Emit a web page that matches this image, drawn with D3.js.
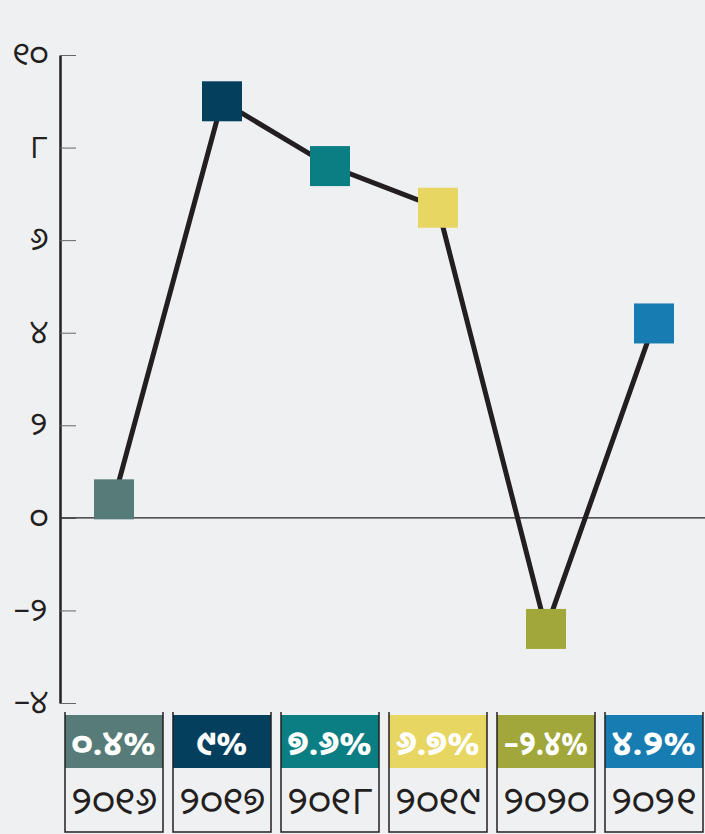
<!DOCTYPE html>
<html><head><meta charset="utf-8">
<script src="https://cdn.jsdelivr.net/npm/d3@7"></script>
<style>
html,body{margin:0;padding:0;background:#eff0f2;}
svg{display:block;}
text{font-family:"Noto Sans Oriya","Noto Sans Odia","Lohit Odia","Noto Sans","DejaVu Sans",sans-serif;}
</style></head>
<body><svg id="c" width="705" height="834"></svg>
<script>
const years = ["୨୦୧୬","୨୦୧୭","୨୦୧୮","୨୦୧୯","୨୦୨୦","୨୦୨୧"];
const values = [0.4, 9, 7.6, 6.7, -2.4, 4.2];
const valueLabels = ["୦.୪%","୯%","୭.୬%","୬.୭%","–୨.୪%","୪.୨%"];
const colors = ["#567b78","#053f5e","#0b7e83","#e8d663","#a1a73a","#167cb1"];
const yTicks = [10,8,6,4,2,0,-2,-4];
const yTickLabels = ["୧୦","୮","୬","୪","୨","୦","–୨","–୪"];

const svg = d3.select("#c");
const x = d3.scalePoint().domain(years).range([114,654]);
const y = d3.scaleLinear().domain([-4,10]).range([703,55]);

// axis
const axis = d3.axisLeft(y).tickValues(yTicks).tickSize(0).tickPadding(12)
  .tickFormat((d,i)=>yTickLabels[i]);
const ag = svg.append("g").attr("transform","translate(60,0)").call(axis);
ag.select(".domain").attr("stroke","#231f20").attr("stroke-width",2.5);
ag.selectAll(".tick text").attr("font-size",32).attr("fill","#231f20").attr("dy","0.3em");
ag.selectAll(".tick").append("line").attr("x1",0).attr("x2",16).attr("stroke","#666").attr("stroke-width",1);

// zero line
svg.append("line").attr("x1",60).attr("x2",705).attr("y1",y(0)).attr("y2",y(0))
  .attr("stroke","#231f20").attr("stroke-width",1.2);

// line
svg.append("path").datum(values)
  .attr("d", d3.line().x((d,i)=>x(years[i])).y(d=>y(d)))
  .attr("fill","none").attr("stroke","#231f20").attr("stroke-width",5);

// markers
svg.selectAll("rect.m").data(values).join("rect").attr("class","m")
  .attr("x",(d,i)=>x(years[i])-20).attr("y",d=>y(d)-20)
  .attr("width",40).attr("height",40).attr("fill",(d,i)=>colors[i]);

// boxes
const bw = 98;
const bg = svg.selectAll("g.box").data(years).join("g").attr("class","box")
  .attr("transform",d=>`translate(${x(d)-bw/2},0)`);
bg.append("rect").attr("x",0).attr("y",715).attr("width",bw).attr("height",53)
  .attr("fill",(d,i)=>colors[i]);
bg.append("path").attr("d",`M0,712V832H${bw}V712`).attr("fill","none")
  .attr("stroke","#231f20").attr("stroke-width",1.5);
bg.append("text").attr("x",bw/2).attr("y",755).attr("text-anchor","middle")
  .attr("font-size",34).attr("font-weight","bold").attr("fill","#fff")
  .attr("textLength",(d,i)=>valueLabels[i].length>3?84:null)
  .attr("lengthAdjust","spacingAndGlyphs")
  .text((d,i)=>valueLabels[i]);
bg.append("text").attr("x",bw/2).attr("y",814).attr("text-anchor","middle")
  .attr("font-size",38).attr("fill","#231f20").text(d=>d);
</script></body></html>
